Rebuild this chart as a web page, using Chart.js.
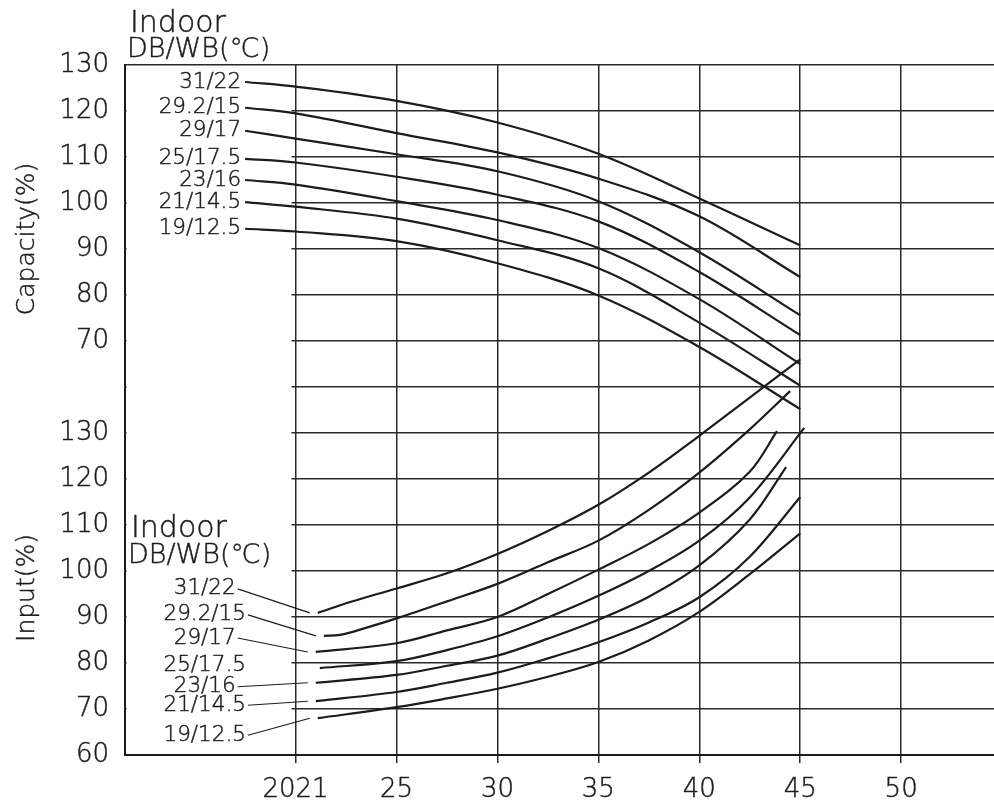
<!DOCTYPE html>
<html>
<head>
<meta charset="utf-8">
<script src="https://cdn.jsdelivr.net/npm/chart.js@4/dist/chart.umd.min.js"></script>
<style>
  html, body { margin: 0; padding: 0; background: #fff; }
  canvas { display: block; }
</style>
</head>
<body>
<canvas id="c" width="994" height="803"></canvas>
<script>
// ---------- data ----------
const curveLabels = ["31/22", "29.2/15", "29/17", "25/17.5", "23/16", "21/14.5", "19/12.5"];

// Capacity (%) vs outdoor temperature
const capX = [17.5, 20, 25, 30, 35, 40, 45];
const cap_31_22   = [126.3, 125.3, 122.2, 117.5, 110.7, 101.0, 90.8];
const cap_29_2_15 = [120.7, 119.5, 115.2, 111.0, 105.3, 97.1, 83.9];
const cap_29_17   = [115.7, 114.0, 110.6, 106.9, 100.4, 89.3, 75.6];
const cap_25_17_5 = [109.6, 108.8, 105.7, 101.8, 96.0, 85.0, 71.3];
const cap_23_16   = [105.0, 104.0, 100.4, 96.3, 90.2, 79.1, 65.0];
const cap_21_14_5 = [100.2, 99.2, 96.6, 91.9, 85.8, 74.0, 60.3];
const cap_19_12_5 = [94.4, 93.8, 91.7, 86.9, 79.9, 68.7, 55.2];

// Input (%) vs outdoor temperature
const in_31_22_x   = [21.1, 22.75, 25, 27.5, 30, 32.5, 35, 37.5, 40, 42.5, 45];
const in_31_22     = [90.9, 93.3, 96.2, 99.5, 103.7, 108.7, 114.4, 121.4, 129.4, 137.7, 146.0];
const in_29_2_15_x = [21.4, 22.2, 23.6, 25, 27.5, 30, 32.5, 35, 37.5, 40, 42.5, 44.5];
const in_29_2_15   = [85.9, 86.1, 87.8, 89.7, 93.4, 97.2, 101.9, 106.6, 113.3, 121.4, 130.8, 139.1];
const in_29_17_x   = [21.0, 25, 27.5, 30, 32.5, 35, 37.5, 40, 42.5, 43.85];
const in_29_17     = [82.4, 84.3, 87.1, 90.0, 95.0, 100.3, 105.9, 112.7, 121.6, 130.4];
const in_25_17_5_x = [21.2, 25, 27.5, 30, 32.5, 35, 37.5, 40, 42.5, 45.2];
const in_25_17_5   = [78.9, 80.4, 82.8, 85.8, 89.9, 94.6, 100.0, 106.6, 116.0, 131.1];
const in_23_16_x   = [21.0, 25, 27.5, 30, 32.5, 35, 37.5, 40, 42.5, 44.3];
const in_23_16     = [75.7, 77.4, 79.4, 81.6, 85.3, 89.4, 94.4, 101.2, 111.2, 122.6];
const in_21_14_5_x = [21.0, 25, 27.5, 30, 32.5, 35, 37.5, 40, 42.5, 45];
const in_21_14_5   = [71.7, 73.7, 75.7, 77.9, 81.0, 84.5, 88.8, 94.3, 103.1, 116.1];
const in_19_12_5_x = [21.1, 25, 27.5, 30, 32.5, 35, 37.5, 40, 42.5, 45];
const in_19_12_5   = [68.0, 70.4, 72.3, 74.4, 77.0, 80.2, 84.9, 91.1, 99.3, 108.2];

// Axis ticks
const xTickValues = [20, 25, 30, 35, 40, 45, 50];
const xTickLabels = ["2021", "25", "30", "35", "40", "45", "50"];
const capTickValues = [70, 80, 90, 100, 110, 120, 130];
const inTickValues  = [60, 70, 80, 90, 100, 110, 120, 130];

// ---------- layout / style constants ----------
const X_MIN = 11.55, X_MAX = 54.6;
const CAP_MIN = -20, CAP_MAX = 130;   // capacity axis range (full height)
const IN_MIN = 60, IN_MAX = 210;      // input axis range (full height, same pixel scale)
const GRID_START_X = 19.8;
const FONT = "'DejaVu Sans', 'Liberation Sans', sans-serif";
const FW = '200';
const TXT_STROKE = 0.45;
const INK = '#1c1c1c';
const inLabelDy = [-24, -21, -14, -3, 4, 4, 17];
const inLeader  = [true, true, true, false, true, true, true];
const IN_LABEL_CENTER_X = 15.5;

function pts(xs, ys) { return xs.map((x, i) => ({ x: x, y: ys[i] })); }

const capSeries = [cap_31_22, cap_29_2_15, cap_29_17, cap_25_17_5, cap_23_16, cap_21_14_5, cap_19_12_5];
const inSeries = [
  [in_31_22_x, in_31_22], [in_29_2_15_x, in_29_2_15], [in_29_17_x, in_29_17],
  [in_25_17_5_x, in_25_17_5], [in_23_16_x, in_23_16], [in_21_14_5_x, in_21_14_5],
  [in_19_12_5_x, in_19_12_5]
];

const lineStyle = {
  borderColor: INK, borderWidth: 2.2, pointRadius: 0, fill: false,
  tension: 0.35, showLine: true
};

const datasets = [];
capSeries.forEach((ys, i) => datasets.push(Object.assign({
  label: 'Capacity ' + curveLabels[i], data: pts(capX, ys), yAxisID: 'y', kind: 'cap', idx: i
}, lineStyle)));
inSeries.forEach((s, i) => datasets.push(Object.assign({
  label: 'Input ' + curveLabels[i], data: pts(s[0], s[1]), yAxisID: 'yIn', kind: 'in', idx: i
}, lineStyle)));

// horizontal grid lines start near the 20 line in the original
const gridMask = {
  id: 'gridMask',
  beforeDatasetsDraw(chart) {
    const { ctx, chartArea: a, scales } = chart;
    const xs = scales.x.getPixelForValue(GRID_START_X);
    ctx.save();
    ctx.fillStyle = '#fff';
    ctx.fillRect(a.left + 1.5, a.top + 1, xs - a.left - 1.5, a.bottom - a.top - 2);
    ctx.restore();
  }
};

function font(size) { return FW + ' ' + size + 'px ' + FONT; }
function text(ctx, t, x, y) {
  ctx.fillText(t, x, y);
  ctx.lineWidth = TXT_STROKE;
  ctx.strokeText(t, x, y);
}

const annotations = {
  id: 'annotations',
  afterDatasetsDraw(chart) {
    const { ctx, scales } = chart;
    ctx.save();
    ctx.fillStyle = INK;
    ctx.strokeStyle = INK;
    ctx.font = font(21.5);
    ctx.textBaseline = 'middle';
    chart.data.datasets.forEach((ds, di) => {
      const p0 = chart.getDatasetMeta(di).data[0];
      const t = curveLabels[ds.idx];
      if (ds.kind === 'cap') {
        ctx.textAlign = 'right';
        text(ctx, t, p0.x - 4, p0.y);
      } else {
        const cx = scales.x.getPixelForValue(IN_LABEL_CENTER_X);
        const ly = p0.y + inLabelDy[ds.idx];
        ctx.textAlign = 'center';
        text(ctx, t, cx, ly);
        if (inLeader[ds.idx]) {
          const w = ctx.measureText(t).width;
          ctx.lineWidth = 1.1;
          ctx.beginPath();
          ctx.moveTo(cx + w / 2 + 2, ly);
          ctx.lineTo(p0.x - 8, p0.y);
          ctx.stroke();
        }
      }
    });
    ctx.textAlign = 'left';
    ctx.textBaseline = 'alphabetic';
    ctx.font = font(30);
    text(ctx, 'Indoor', 130, 32);
    text(ctx, 'Indoor', 131, 537);
    ctx.font = font(27);
    text(ctx, 'DB/WB(\u2103)', 127, 57);
    text(ctx, 'DB/WB(\u2103)', 128, 563);
    ctx.font = font(25);
    ctx.textAlign = 'center';
    ctx.textBaseline = 'middle';
    [['Capacity(%)', 239], ['Input(%)', 588]].forEach(([t, y]) => {
      ctx.save();
      ctx.translate(27, y);
      ctx.rotate(-Math.PI / 2);
      text(ctx, t, 0, 0);
      ctx.restore();
    });
    ctx.restore();
  }
};

new Chart(document.getElementById('c'), {
  type: 'scatter',
  data: { datasets },
  options: {
    responsive: false,
    animation: false,
    events: [],
    layout: { padding: { top: 65, left: 0, right: 0, bottom: 0 } },
    plugins: { legend: { display: false }, tooltip: { enabled: false } },
    scales: {
      x: {
        type: 'linear', min: X_MIN, max: X_MAX,
        afterBuildTicks: s => { s.ticks = xTickValues.map(v => ({ value: v })); },
        afterFit: s => { s.height = 48; },
        ticks: {
          autoSkip: false, maxRotation: 0, padding: 12, color: INK,
          textStrokeColor: INK, textStrokeWidth: TXT_STROKE,
          font: { family: FONT, size: 26, weight: FW },
          callback: v => xTickLabels[xTickValues.indexOf(v)]
        },
        grid: { color: '#2a2a2a', lineWidth: 1.5, tickLength: 8 },
        border: { color: INK, width: 2 }
      },
      y: {
        type: 'linear', position: 'left', min: CAP_MIN, max: CAP_MAX,
        afterBuildTicks: s => {
          const t = [];
          for (let v = CAP_MIN; v <= CAP_MAX; v += 10) t.push({ value: v });
          s.ticks = t;
        },
        afterFit: s => { s.width = 125; },
        ticks: {
          padding: 16, color: INK,
          textStrokeColor: INK, textStrokeWidth: TXT_STROKE,
          font: { family: FONT, size: 26, weight: FW },
          callback: v => {
            if (capTickValues.includes(v)) return String(v);
            const iv = v - CAP_MIN + IN_MIN;
            if (v < 60 && inTickValues.includes(iv)) return String(iv);
            return '';
          }
        },
        grid: { color: '#2a2a2a', lineWidth: 1.5, drawTicks: false },
        border: { color: INK, width: 2 }
      },
      yIn: { type: 'linear', display: false, min: IN_MIN, max: IN_MAX }
    }
  },
  plugins: [gridMask, annotations]
});
</script>
</body>
</html>
